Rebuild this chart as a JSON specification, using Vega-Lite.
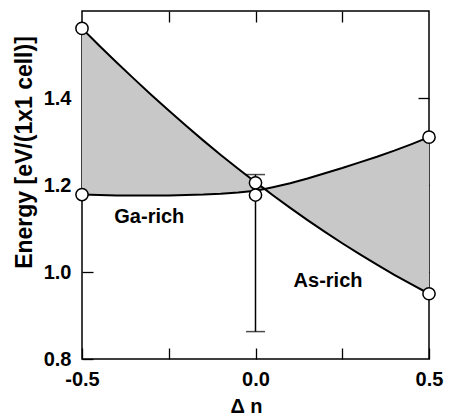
{
  "$schema": "https://vega.github.io/schema/vega-lite/v6.json",
  "width": 347,
  "height": 348,
  "autosize": "none",
  "padding": {"left": 82, "top": 11, "right": 22, "bottom": 56},
  "background": "white",
  "config": {
    "view": {"stroke": "black", "strokeWidth": 1.5},
    "font": "Liberation Sans",
    "axis": {
      "labelFont": "Liberation Sans", "labelFontWeight": "bold", "labelFontSize": 20, "labelColor": "black",
      "titleFont": "Liberation Sans", "titleFontWeight": "bold", "titleColor": "black",
      "tickColor": "black", "tickWidth": 1.3, "grid": false, "domain": false
    }
  },
  "datasets": {
    "curves": [
      {"dn": -0.5, "A": 1.56, "B": 1.178},
      {"dn": -0.45, "A": 1.52, "B": 1.177},
      {"dn": -0.4, "A": 1.4815, "B": 1.176},
      {"dn": -0.35, "A": 1.444, "B": 1.176},
      {"dn": -0.3, "A": 1.407, "B": 1.176},
      {"dn": -0.25, "A": 1.371, "B": 1.176},
      {"dn": -0.2, "A": 1.336, "B": 1.177},
      {"dn": -0.15, "A": 1.302, "B": 1.178},
      {"dn": -0.1, "A": 1.269, "B": 1.18},
      {"dn": -0.05, "A": 1.2375, "B": 1.183},
      {"dn": 0.0, "A": 1.2065, "B": 1.187},
      {"dn": 0.026, "A": 1.191, "B": 1.191},
      {"dn": 0.05, "A": 1.1765, "B": 1.195},
      {"dn": 0.1, "A": 1.1474, "B": 1.204},
      {"dn": 0.15, "A": 1.1194, "B": 1.215},
      {"dn": 0.2, "A": 1.0923, "B": 1.227},
      {"dn": 0.25, "A": 1.0661, "B": 1.239},
      {"dn": 0.3, "A": 1.041, "B": 1.252},
      {"dn": 0.35, "A": 1.0168, "B": 1.265},
      {"dn": 0.4, "A": 0.9935, "B": 1.279},
      {"dn": 0.45, "A": 0.9713, "B": 1.294},
      {"dn": 0.5, "A": 0.95, "B": 1.31}
    ],
    "points": [
      {"dn": -0.5, "E": 1.56},
      {"dn": -0.5, "E": 1.178},
      {"dn": 0.0, "E": 1.205},
      {"dn": 0.0, "E": 1.177},
      {"dn": 0.5, "E": 1.31},
      {"dn": 0.5, "E": 0.95}
    ],
    "errbar": [
      {"dn": 0.0, "lo": 0.863, "hi": 1.224}
    ],
    "labels": [
      {"dn": -0.306, "E": 1.113, "label": "Ga-rich"},
      {"dn": 0.209, "E": 0.965, "label": "As-rich"}
    ]
  },
  "layer": [
    {
      "data": {"name": "curves"},
      "mark": {"type": "area", "color": "#c8c8c8", "opacity": 1},
      "encoding": {
        "x": {"field": "dn", "type": "quantitative",
          "scale": {"domain": [-0.5, 0.5], "nice": false, "zero": false},
          "axis": {"orient": "bottom", "values": [-0.5, -0.25, 0, 0.25, 0.5], "format": ".1f",
            "labelExpr": "abs(datum.value) == 0.25 ? '' : replace(datum.label, '−', '-')",
            "tickSize": -11, "labelPadding": 21, "labelFlush": false,
            "title": "Δ n", "titleFontSize": 20, "titleX": 164, "titleY": 53, "titleAlign": "center", "titleBaseline": "alphabetic"}},
        "y": {"field": "A", "type": "quantitative",
          "scale": {"domain": [0.8, 1.6], "nice": false, "zero": false},
          "axis": {"orient": "left", "values": [0.8, 1.0, 1.2, 1.4], "format": ".1f",
            "tickSize": -11, "labelPadding": 22,
            "title": "Energy  [eV/(1x1 cell)]", "titleFontSize": 23, "titleAngle": -90,
            "titleX": -51, "titleY": 141, "titleAlign": "center", "titleBaseline": "alphabetic"}},
        "y2": {"field": "B"}
      }
    },
    {
      "data": {"name": "curves"},
      "mark": {"type": "line", "color": "black", "strokeWidth": 2},
      "encoding": {
        "x": {"field": "dn", "type": "quantitative",
          "axis": {"orient": "top", "values": [-0.25, 0, 0.25], "labels": false, "tickSize": -11, "title": null}},
        "y": {"field": "A", "type": "quantitative",
          "axis": {"orient": "right", "values": [1.0, 1.2, 1.4], "labels": false, "tickSize": -11, "title": null}}
      }
    },
    {
      "data": {"name": "curves"},
      "mark": {"type": "line", "color": "black", "strokeWidth": 2},
      "encoding": {
        "x": {"field": "dn", "type": "quantitative", "axis": null},
        "y": {"field": "B", "type": "quantitative", "axis": null}
      }
    },
    {
      "data": {"name": "errbar"},
      "mark": {"type": "rule", "color": "black", "strokeWidth": 1.5},
      "encoding": {
        "x": {"field": "dn", "type": "quantitative", "axis": null},
        "y": {"field": "lo", "type": "quantitative", "axis": null},
        "y2": {"field": "hi"}
      }
    },
    {
      "data": {"name": "errbar"},
      "mark": {"type": "tick", "orient": "horizontal", "color": "black", "size": 19, "thickness": 1.5},
      "encoding": {
        "x": {"field": "dn", "type": "quantitative", "axis": null},
        "y": {"field": "lo", "type": "quantitative", "axis": null}
      }
    },
    {
      "data": {"name": "errbar"},
      "mark": {"type": "tick", "orient": "horizontal", "color": "black", "size": 19, "thickness": 1.5},
      "encoding": {
        "x": {"field": "dn", "type": "quantitative", "axis": null},
        "y": {"field": "hi", "type": "quantitative", "axis": null}
      }
    },
    {
      "data": {"name": "points"},
      "mark": {"type": "point", "shape": "circle", "filled": false, "fill": "white", "stroke": "black", "strokeWidth": 1.5, "size": 150, "opacity": 1, "fillOpacity": 1},
      "encoding": {
        "x": {"field": "dn", "type": "quantitative", "axis": null},
        "y": {"field": "E", "type": "quantitative", "axis": null}
      }
    },
    {
      "data": {"name": "labels"},
      "mark": {"type": "text", "font": "Liberation Sans", "fontWeight": "bold", "fontSize": 20, "color": "black", "align": "center", "baseline": "alphabetic"},
      "encoding": {
        "x": {"field": "dn", "type": "quantitative", "axis": null},
        "y": {"field": "E", "type": "quantitative", "axis": null},
        "text": {"field": "label"}
      }
    }
  ]
}
